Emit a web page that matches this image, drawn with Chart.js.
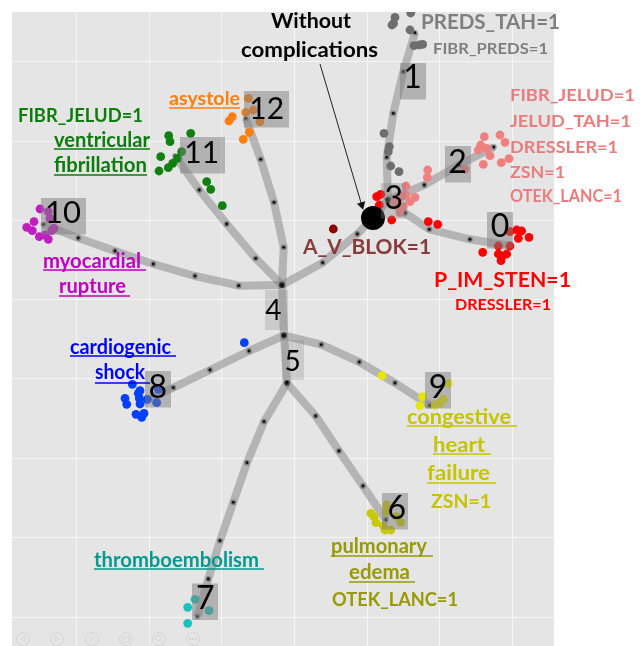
<!DOCTYPE html>
<html>
<head>
<meta charset="utf-8">
<style>
html,body{margin:0;padding:0;background:#fff;overflow:hidden}
canvas{display:block;filter:blur(0.45px)}
</style>
<script src="https://cdn.jsdelivr.net/npm/chart.js@4"></script>
</head>
<body>
<canvas id="c" width="643" height="646"></canvas>
<script>
// ---------- data (embedding coordinates) ----------
const xGrid = [-218,-145.5,-73,0,72.7,145.4,218];
const yGrid = [238,158,79,0,-79,-158,-237,-317];

const branch4  = [[-12.5,15],[-10.5,-35.5]];
const branch5  = [[-10.5,-35.5],[-7.5,-83]];
const branch12 = [[-12.5,15],[-10.8,52.7],[-20.5,97.7],[-33.8,140.7],[-48.8,181.7]];
const branch11 = [[-12.5,15],[-38.8,41.7],[-67.8,76],[-95.2,110],[-119.5,144]];
const branch10 = [[-12.5,15],[-55.8,14.3],[-99.5,24],[-141.2,36],[-179.5,49],[-216.2,62],[-251.2,75.7]];
const branch3  = [[-12.5,15],[28.2,37.3],[62.8,66],[78.5,82],[93.5,100]];
const branch1  = [[93.5,100],[92.2,142.7],[98.8,186.7],[108.8,228.3],[120.5,267.3]];
const branch2  = [[93.5,100],[129.8,115],[164.5,135],[199.5,153]];
const branch0  = [[93.5,100],[110.5,87],[134.8,70.7],[175.5,60.7],[216.2,54]];
const branch8  = [[-10.5,-35.5],[-45.5,-51],[-84.5,-70],[-121.2,-87.7],[-155.5,-104]];
const branch7  = [[-7.5,-83],[-30.5,-121.7],[-47.5,-162.7],[-61.2,-202.3],[-74.5,-240.7],[-86.2,-279],[-97.2,-316.7]];
const branch6  = [[-7.5,-83],[21.2,-116],[44.5,-151],[68.5,-186],[91.5,-220]];
const branch9  = [[-10.5,-35.5],[26.8,-44.7],[64.8,-62],[100.5,-83],[135.5,-105.7]];
const branches = [branch4,branch5,branch12,branch11,branch10,branch3,branch1,branch2,branch0,branch8,branch7,branch6,branch9];

const arrowPath = [[25.5,236],[67.2,95]];

const pointsGray = [[100.5,282.7],[99,276.5],[97.5,275],[116.2,287],[115.5,270],[119.5,254.3],[124.8,255],[128.2,255.7],[89.5,166.7],[94.8,153.3],[93.8,148.3],[96.2,134],[104.5,128.3]];
const pointsRed = [[86.2,105.7],[84.8,95],[82.2,103.3],[97.2,80],[133.8,78.3],[143.2,75.7],[222.2,70],[227.2,69],[215.5,68.3],[223.8,61.7],[234.5,62.7],[215.5,54],[203.8,54],[188.2,47.7],[203.8,46],[212.2,46],[207.8,44],[206.5,39.3]];
const pointsPink = [[189.8,163.3],[205.5,165],[210.5,157.7],[186.2,155],[183.8,150],[192.2,151.7],[195.5,144.3],[188.8,135.7],[206.8,137.3],[214.5,141.3],[133.2,130],[132.8,122.7],[170.5,130.7],[111.5,114],[111.5,105],[120.5,102.7],[115.5,98.3],[108.8,93.3],[105.5,87.3],[100.5,98.3],[107.2,103.3]];
const pointsOrange = [[-46.2,201.7],[-48.8,187.7],[-41.2,190],[-34.5,178.3],[-45.2,167.7],[-51.2,160.7],[-62.2,183.3],[-65.5,179]];
const pointsGreen = [[-103.8,166.7],[-125.8,164.3],[-124.5,158.3],[-133.8,143.3],[-112.8,148.3],[-116.8,141.7],[-121.8,136.7],[-126.2,132.3],[-135.5,129],[-87.8,118.3],[-83.8,110.7],[-72.2,94.3]];
const pointsPurple = [[-254.5,91],[-246.2,88.3],[-244.5,81.7],[-260.5,78.3],[-267.8,72.7],[-262.2,69.3],[-255.2,63.3],[-246.2,60.7],[-242.8,69.3],[-240.5,71.7],[-249.5,65]];
const pointsBlue = [[-50.2,-42.7],[-162.2,-84.3],[-154.5,-90.7],[-156.2,-93.3],[-169.5,-98.3],[-167.8,-104.3],[-147.2,-99.3],[-137.8,-102.7],[-136.2,-89.3],[-155.2,-98.3],[-154.5,-104],[-158.5,-114.3],[-150.5,-113.3],[-152.8,-117.3]];
const pointsTeal = [[-99.5,-299.3],[-106.8,-307.3],[-85.5,-310.7],[-106.8,-323.3]];
const pointsYellow = [[87.5,-75.7],[128.2,-96.7],[125.5,-105.7],[153.8,-83.3],[148.8,-99.3],[145.5,-103.3],[140.5,-105]];
const pointsOlive = [[76.5,-213.3],[79.5,-216.7],[81.5,-222.7],[92.2,-205],[92.2,-211.7],[106.2,-222.3],[88.8,-226],[90.5,-230],[96.2,-230],[102.2,-216.7]];
const pointsAVBlok = [[38.8,71]];
const pointRoot = [[78.5,82]];

// ---------- layout of annotations (separate from the data) ----------
// text, box x, y, w, h, box alpha, font px, digit centre x, y
const nodeBoxes = [
  ["0",487,212,26,36.5,.5,32,500,225.8],["1",400,63,26,36.5,.5,32,412.5,76.7],
  ["2",445,146,26,36.5,.5,32,457.5,161.7],["3",381,183,25,35.5,.35,32,393.8,197.7],
  ["4",265,290,23,40,.25,28,273.3,310],["5",282,340,22,40,.25,28,292.5,361],
  ["6",382,493,26,36.5,.5,32,396.7,507.5],["7",192,583.5,26,36.5,.5,32,205.3,597.8],
  ["8",145,371,26,36.5,.5,32,157.7,386.3],["9",425,372,26,36.5,.5,32,438,386.7],
  ["10",41,198,45,36.5,.5,31,63,212.3],["11",180,137,45,36.5,.5,30,201.7,151.7],["12",244,91,45,36.5,.5,30,266.7,107.7]
];
// text, left, right, middleY, fontPx, colour, underline right end (or 0), underline y
const textLabels = [
  ["Without",271,351,21,20.5,"#000",0,0],
  ["complications",241,378,50,20.5,"#000",0,0],
  ["PREDS_TAH=1",421,560,23,20,"#7f7f7f",0,0],
  ["FIBR_PREDS=1",433,548,49,16,"#7f7f7f",0,0],
  ["FIBR_JELUD=1",510,635,95,17.5,"#e97c7c",0,0],
  ["JELUD_TAH=1",510,631,121,17.5,"#e97c7c",0,0],
  ["DRESSLER=1",510,618,147,17.5,"#e97c7c",0,0],
  ["ZSN=1",510,565,172,17.5,"#e97c7c",0,0],
  ["OTEK_LANC=1",510,622,197,16.5,"#e97c7c",0,0],
  ["P_IM_STEN=1",434,571,280,21,"#ff0000",0,0],
  ["DRESSLER=1",455,551,305,16,"#ff0000",0,0],
  ["A_V_BLOK=1",303,431,247,21,"#843c3c",0,0],
  ["asystole",169,240,99,19.5,"#ff7f0e",240,108],
  ["FIBR_JELUD=1",18,143,116,18.5,"#0a7d0a",0,0],
  ["ventricular",54,150,141,20,"#0a7d0a",150,149],
  ["fibrillation",54,147,166,20,"#0a7d0a",147,175],
  ["myocardial",43,141,262,20,"#bf00bf",146,270],
  ["rupture",59,126,287,20,"#bf00bf",130,296],
  ["cardiogenic",70,171,348,20,"#0000ff",176,356],
  ["shock",95,145,373,20,"#0000ff",150,383],
  ["thromboembolism",94,259,561,20,"#009a90",264,569],
  ["congestive",407,511,417,21,"#c4c400",517,426],
  ["heart",433,485,445,21,"#c4c400",491,454],
  ["failure",427,490,473,21,"#c4c400",496,483],
  ["ZSN=1",431,491,502,19,"#c4c400",0,0],
  ["pulmonary",331,427,547,20,"#999900",433,556],
  ["edema",349,410,573,20,"#999900",415,582],
  ["OTEK_LANC=1",332,458,600,19,"#999900",0,0]
];
const toolbarIcons = [23,57,92,126,159,193];

const toXY = a => a.map(p => ({x:p[0], y:p[1]}));
const treeSets = branches.map(b => ({
  data: toXY(b), showLine:true, borderColor:'rgba(120,120,120,0.45)', borderWidth:8,
  borderJoinStyle:'round', borderCapStyle:'butt',
  pointRadius:1.4, pointBackgroundColor:'#111', pointBorderColor:'rgba(0,0,0,0.28)', pointBorderWidth:3
}));
const dots = (arr,color,r) => ({data:toXY(arr), backgroundColor:color, borderColor:color, pointRadius:r||4.4, pointBorderWidth:0});
const arrowSet = {
  data: toXY(arrowPath), showLine:true, borderColor:'#222', borderWidth:1,
  pointRadius:[0,5], pointStyle:'triangle', pointRotation:163.5,
  pointBackgroundColor:'#111', pointBorderColor:'#111', pointBorderWidth:0
};
const datasets = [
  ...treeSets,
  dots(pointsGray,'#6e6e6e'), dots(pointsRed,'#ff0000'), dots(pointsPink,'#f08080'),
  dots(pointsOrange,'#ff7f0e'), dots(pointsGreen,'#118011'), dots(pointsPurple,'#bf1fbf'),
  dots(pointsBlue,'#0040ff'), dots(pointsTeal,'#20bfbf'), dots(pointsYellow,'#e6e600'),
  dots(pointsOlive,'#c8c800'), dots(pointsAVBlok,'#8b0000'), dots(pointRoot,'#000',12),
  arrowSet
];
datasets.forEach((d,i) => { d.order = datasets.length - i; });

const panelBg = {
  id:'panelBg',
  beforeDraw(chart){
    const a = chart.chartArea, c = chart.ctx;
    c.save(); c.fillStyle = '#e5e5e5'; c.fillRect(a.left,a.top,a.right-a.left,a.bottom-a.top); c.restore();
  }
};
function drawToolbar(c){
  const y = 639;
  c.strokeStyle = '#d5d5d5'; c.fillStyle = '#d5d5d5'; c.lineWidth = 1;
  toolbarIcons.forEach((x,i) => {
    c.beginPath(); c.arc(x,y,6.5,0,Math.PI*2); c.stroke();
    c.beginPath();
    if(i===0){ c.moveTo(x+2,y-3); c.lineTo(x-2,y); c.lineTo(x+2,y+3); c.closePath(); c.stroke(); }
    if(i===1){ c.moveTo(x-2,y-3); c.lineTo(x+2,y); c.lineTo(x-2,y+3); c.closePath(); c.stroke(); }
    if(i===2){ c.moveTo(x-3,y+3); c.lineTo(x+3,y-3); c.stroke(); }
    if(i===3){ c.rect(x-3,y-2,6,5); c.stroke(); }
    if(i===4){ c.arc(x-1,y-1,2.5,0,Math.PI*2); c.moveTo(x+1,y+1); c.lineTo(x+3.5,y+3.5); c.stroke(); }
    if(i===5){ [-3,0,3].forEach(d => c.fillRect(x+d-1,y-1,2,2)); }
  });
}
const annotations = {
  id:'annotations',
  afterDatasetsDraw(chart){
    const c = chart.ctx;
    c.save();
    drawToolbar(c);
    // node boxes
    nodeBoxes.forEach(([t,x,y,w,h,a]) => {
      c.fillStyle = 'rgba(128,128,128,'+a+')'; c.fillRect(x,y,w,h);
    });
    c.textBaseline = 'alphabetic'; c.textAlign = 'center'; c.fillStyle = '#000';
    nodeBoxes.forEach(([t,x,y,w,h,a,fs,cx,cy]) => {
      c.font = fs+'px Lato';
      c.fillText(t, cx, cy + fs*0.36);
    });
    // text labels, stretched to the width they occupy in the picture
    c.textAlign = 'left'; c.textBaseline = 'middle';
    textLabels.forEach(([t,l,r,y,size,col,ur,uy]) => {
      c.font = 'bold '+size+'px Lato';
      c.fillStyle = col;
      const k = (r-l)/c.measureText(t).width;
      c.save(); c.translate(l,y); c.scale(k,1); c.fillText(t,0,0); c.restore();
      if(ur){ c.strokeStyle = col; c.lineWidth = 1.5; c.beginPath(); c.moveTo(l,uy); c.lineTo(ur,uy); c.stroke(); }
    });
    c.restore();
  }
};
const axis = (lo,hi,ticks) => ({
  type:'linear', min:lo, max:hi,
  afterBuildTicks(s){ s.ticks = ticks.map(v => ({value:v})); },
  ticks:{display:false},
  border:{display:false},
  grid:{color:'#f5f5f5', lineWidth:1, drawTicks:false}
});
new Chart(document.getElementById('c'),{
  type:'scatter',
  data:{datasets},
  options:{
    responsive:false, animation:false,
    layout:{autoPadding:false, padding:{left:12,top:12,right:89,bottom:0}},
    plugins:{legend:{display:false},tooltip:{enabled:false},title:{display:false}},
    scales:{x:axis(-282.5,259.5,xGrid), y:axis(-346,288,yGrid)}
  },
  plugins:[panelBg,annotations]
});
</script>
</body>
</html>
